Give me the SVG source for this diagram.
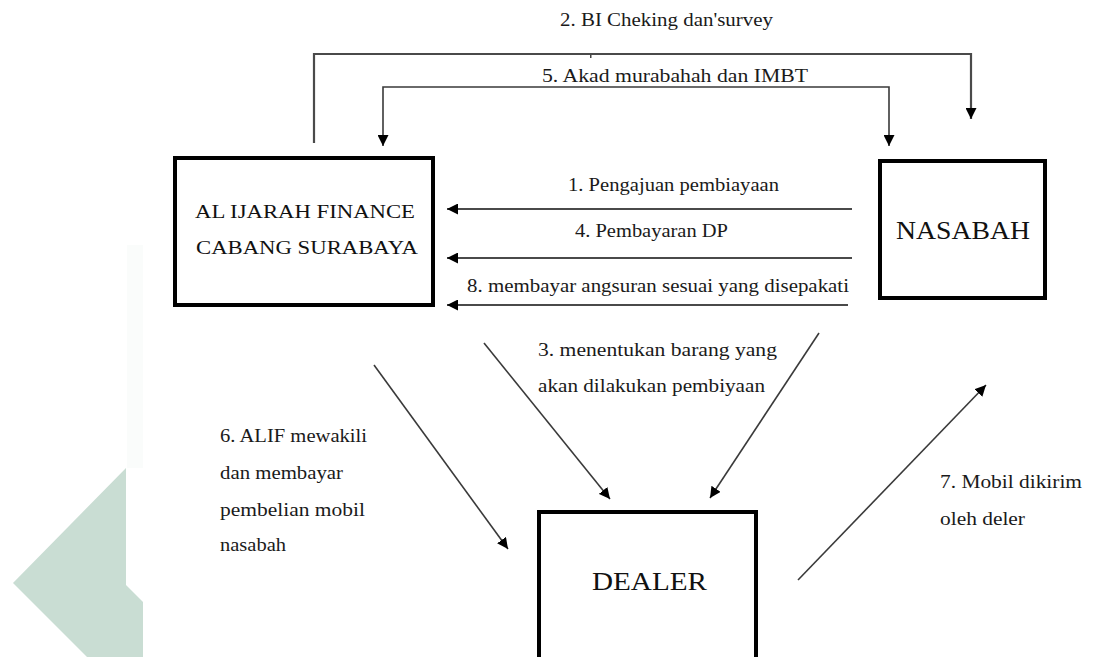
<svg xmlns="http://www.w3.org/2000/svg" width="1093" height="657" viewBox="0 0 1093 657">
  <style>
    text { font-family: 'Liberation Serif', 'DejaVu Serif', serif; }
    .lbl { font-size: 18px; fill: #1a1a1a; }
    .node-text { fill: #111; }
    .box { fill: #ffffff; stroke: #000; stroke-width: 4; }
    .conn { fill: none; stroke: #3a3a3a; stroke-width: 1.6; }
    .conn-thick { fill: none; stroke: #4a4a4a; stroke-width: 2.2; }
  </style>
  <defs>
    <marker id="arrow" viewBox="0 0 10 10" refX="10" refY="5" markerWidth="11" markerHeight="11" markerUnits="userSpaceOnUse" orient="auto-start-reverse">
      <path d="M0,0 L10,5 L0,10 z" fill="#000"/>
    </marker>
  </defs>

  <rect width="1093" height="657" fill="#ffffff"/>

  <g id="background">
    <rect x="127" y="245" width="16" height="223" fill="#fafcfb"/>
    <polygon points="13,583 126,468 126,585 143,602 143,657 87,657" fill="#c9ddd3"/>
  </g>

  <g id="connectors">
    <path class="conn-thick" d="M314,143 V54 H971 V119" marker-end="url(#arrow)"/>
    <path class="conn" d="M383,146 V87 H889 V146" marker-start="url(#arrow)" marker-end="url(#arrow)"/>
    <path class="conn-thick" d="M852,209 H447" marker-end="url(#arrow)"/>
    <path class="conn-thick" d="M852,258 H447" marker-end="url(#arrow)"/>
    <path class="conn-thick" d="M848,305 H447" marker-end="url(#arrow)"/>
    <path class="conn" d="M374,365 L508,549" marker-end="url(#arrow)"/>
    <path class="conn" d="M484,343 L610,499" marker-end="url(#arrow)"/>
    <path class="conn" d="M819,333 L710,498" marker-end="url(#arrow)"/>
    <path class="conn" d="M798,580 L986,385" marker-end="url(#arrow)"/>
    <rect x="590" y="55" width="1.5" height="3" fill="#444"/>
  </g>

  <g id="labels" font-family="Liberation Serif, DejaVu Serif, serif">
    <text class="lbl" x="560" y="26" textLength="213" lengthAdjust="spacingAndGlyphs">2. BI Cheking dan'survey</text>
    <text class="lbl" x="542" y="82" textLength="266" lengthAdjust="spacingAndGlyphs">5. Akad murabahah dan IMBT</text>
    <text class="lbl" x="568" y="191" textLength="211" lengthAdjust="spacingAndGlyphs">1. Pengajuan pembiayaan</text>
    <text class="lbl" x="575" y="237" textLength="153" lengthAdjust="spacingAndGlyphs">4. Pembayaran DP</text>
    <text class="lbl" x="467" y="292" textLength="382" lengthAdjust="spacingAndGlyphs">8. membayar angsuran sesuai yang disepakati</text>
    <text class="lbl" x="538" y="356" textLength="239" lengthAdjust="spacingAndGlyphs">3. menentukan barang yang</text>
    <text class="lbl" x="538" y="392" textLength="227" lengthAdjust="spacingAndGlyphs">akan dilakukan pembiyaan</text>
    <text class="lbl" x="220" y="442" textLength="147" lengthAdjust="spacingAndGlyphs">6. ALIF mewakili</text>
    <text class="lbl" x="220" y="479" textLength="123" lengthAdjust="spacingAndGlyphs">dan membayar</text>
    <text class="lbl" x="220" y="516" textLength="145" lengthAdjust="spacingAndGlyphs">pembelian mobil</text>
    <text class="lbl" x="220" y="551" textLength="66" lengthAdjust="spacingAndGlyphs">nasabah</text>
    <text class="lbl" x="940" y="488" textLength="142" lengthAdjust="spacingAndGlyphs">7. Mobil dikirim</text>
    <text class="lbl" x="940" y="525" textLength="85" lengthAdjust="spacingAndGlyphs">oleh deler</text>
  </g>

  <g id="node-alif" font-family="Liberation Serif, DejaVu Serif, serif">
    <rect class="box" x="175" y="158" width="258" height="147"/>
    <text class="node-text" font-size="19" x="195" y="218" textLength="220" lengthAdjust="spacingAndGlyphs">AL IJARAH FINANCE</text>
    <text class="node-text" font-size="19" x="196" y="254" textLength="222" lengthAdjust="spacingAndGlyphs">CABANG SURABAYA</text>
  </g>

  <g id="node-nasabah" font-family="Liberation Serif, DejaVu Serif, serif">
    <rect class="box" x="880" y="161" width="165" height="137"/>
    <text class="node-text" font-size="25" x="896" y="239" textLength="134" lengthAdjust="spacingAndGlyphs">NASABAH</text>
  </g>

  <g id="node-dealer" font-family="Liberation Serif, DejaVu Serif, serif">
    <rect class="box" x="539" y="512" width="217" height="160"/>
    <text class="node-text" font-size="25" x="592" y="590" textLength="115" lengthAdjust="spacingAndGlyphs">DEALER</text>
  </g>
</svg>
